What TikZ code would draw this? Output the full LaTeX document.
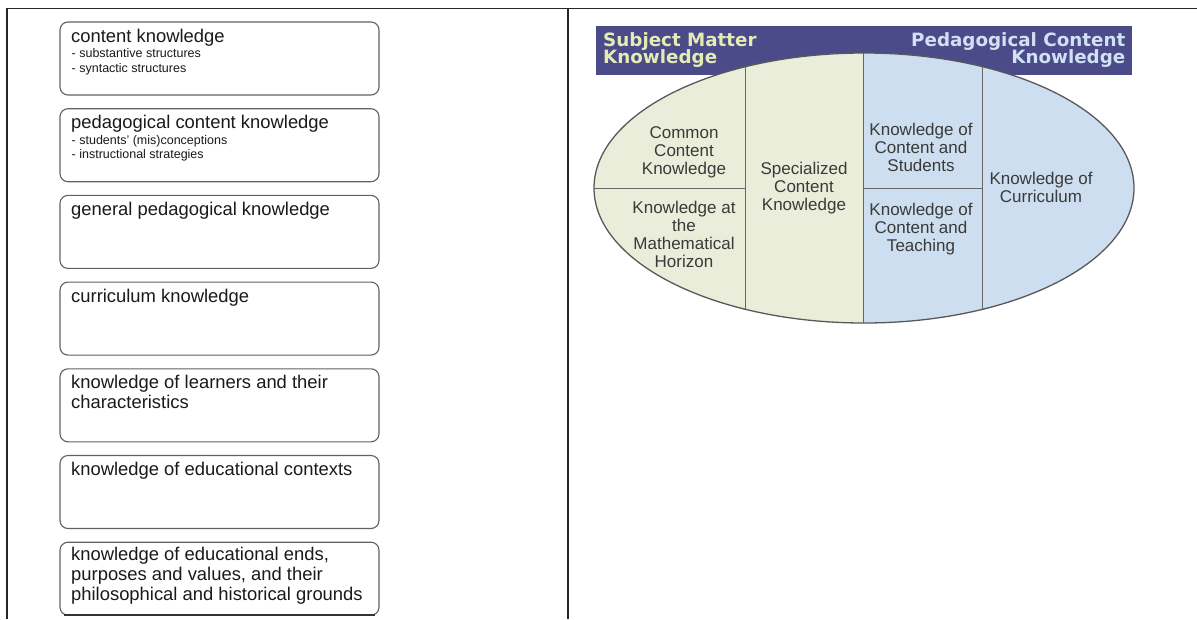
\documentclass[tikz,border=0pt]{standalone}
\usepackage{fontspec}
\setmainfont{Liberation Sans}
\newfontfamily\hdrfont{DejaVu Sans}
\usetikzlibrary{shapes.geometric}

\definecolor{hdrblue}{HTML}{4A4B88}
\definecolor{smkgreen}{HTML}{E9EDD9}
\definecolor{pckblue}{HTML}{CCDEEF}
\definecolor{smktext}{HTML}{E4ECB4}
\definecolor{pcktext}{HTML}{D0E1F3}
\definecolor{inktext}{HTML}{1A1A1A}
\definecolor{celltext}{HTML}{3A3A3A}

\tikzset{
  frameline/.style={line width=1.4pt, draw=black!85},
  kbox/.style={draw=black!62, line width=1.1pt, rounded corners=8pt, fill=white,
    minimum width=319pt, minimum height=73pt, inner sep=0pt},
  ktitle/.style={anchor=base west, inner sep=0pt, text=inktext,
    font=\fontsize{18.4}{20}\selectfont},
  ksub/.style={anchor=base west, inner sep=0pt, text=inktext,
    font=\fontsize{12.5}{15}\selectfont},
  hdrtxt/.style={inner sep=0pt, font=\hdrfont\bfseries\fontsize{18.3}{17}\selectfont},
  celltxt/.style={align=center, inner sep=0pt, text=celltext,
    font=\fontsize{17}{18}\selectfont},
  cellline/.style={draw=black!60, line width=1pt},
}

\begin{document}
\begin{tikzpicture}[x=1pt, y=-1pt]
\useasboundingbox (0,0) rectangle (1197,619);

% outer frame and column divider
\coordinate (fbl) at (7,619);
\coordinate (ftl) at (7,8.3);
\coordinate (ftr) at (1197,8.3);
\coordinate (dtop) at (568,8.3);
\coordinate (dbot) at (568,619);
\draw[frameline] (fbl) -- (ftl) -- (ftr);
\draw[frameline] (dtop) -- (dbot);

% ---------- left column: knowledge categories ----------
\node[kbox] (b1) at (219.5,58.5) {};
\node[kbox] (b2) at (219.5,145.2) {};
\node[kbox] (b3) at (219.5,231.9) {};
\node[kbox] (b4) at (219.5,318.6) {};
\node[kbox] (b5) at (219.5,405.3) {};
\node[kbox] (b6) at (219.5,492.0) {};
\node[kbox] (b7) at (219.5,578.7) {};
\coordinate (b7sl) at (64,614.6);
\coordinate (b7sr) at (375,614.6);
\draw[line width=2pt, black!80] (b7sl) -- (b7sr);

\node[ktitle] (t1) at (71,42) {content knowledge};
\node[ksub] (t1a) at (71.5,57.5) {- substantive structures};
\node[ksub] (t1b) at (71.5,72) {- syntactic structures};

\node[ktitle] (t2) at (71,128.7) {pedagogical content knowledge};
\node[ksub] (t2a) at (71.5,144.2) {- students' (mis)conceptions};
\node[ksub] (t2b) at (71.5,158.7) {- instructional strategies};

\node[ktitle] (t3) at (71,215.4) {general pedagogical knowledge};
\node[ktitle] (t4) at (71,302.1) {curriculum knowledge};
\node[ktitle] (t5) at (71,388.3) {knowledge of learners and their};
\node[ktitle] (t5b) at (71,408.3) {characteristics};
\node[ktitle] (t6) at (71,475.5) {knowledge of educational contexts};
\node[ktitle] (t7) at (71,560.2) {knowledge of educational ends,};
\node[ktitle] (t7b) at (71,580.2) {purposes and values, and their};
\node[ktitle] (t7c) at (71,600.2) {philosophical and historical grounds};

% ---------- right column: domains of mathematical knowledge ----------
\node[fill=hdrblue, minimum width=536pt, minimum height=49.3pt, inner sep=0pt,
  anchor=north west] (hdr) at (596,25.7) {};
\node[hdrtxt, text=smktext, anchor=base west] (smk1) at (603,46.8) {Subject Matter};
\node[hdrtxt, text=smktext, anchor=base west] (smk2) at (603,63.3) {Knowledge};
\node[hdrtxt, text=pcktext, anchor=base east] (pck1) at (1125.5,46.8) {Pedagogical Content};
\node[hdrtxt, text=pcktext, anchor=base east] (pck2) at (1125.5,63.3) {Knowledge};

\begin{scope}
  \clip (864,188) ellipse [x radius=270pt, y radius=135pt];
  \fill[smkgreen] (590,45) rectangle (863.5,330);
  \fill[pckblue] (863.5,45) rectangle (1140,330);
  \draw[cellline] (745,45) -- (745,330);
  \draw[cellline] (863.5,45) -- (863.5,330);
  \draw[cellline] (982,45) -- (982,330);
  \draw[cellline] (590,188) -- (745,188);
  \draw[cellline] (863.5,188.5) -- (982,188.5);
\end{scope}
\node[ellipse, draw=black!65, line width=1.3pt, minimum width=540pt,
  minimum height=270pt, inner sep=0pt] (oval) at (864,188) {};

\node[celltxt] (cck) at (684,152) {Common\\Content\\Knowledge};
\node[celltxt] (kmh) at (684,234) {Knowledge at\\the\\Mathematical\\Horizon};
\node[celltxt] (sck) at (804,188) {Specialized\\Content\\Knowledge};
\node[celltxt] (kcs) at (921,147) {Knowledge of\\Content and\\Students};
\node[celltxt] (kct) at (921,229) {Knowledge of\\Content and\\Teaching};
\node[celltxt] (kcc) at (1041,187.5) {Knowledge of\\Curriculum};
\end{tikzpicture}
\end{document}
